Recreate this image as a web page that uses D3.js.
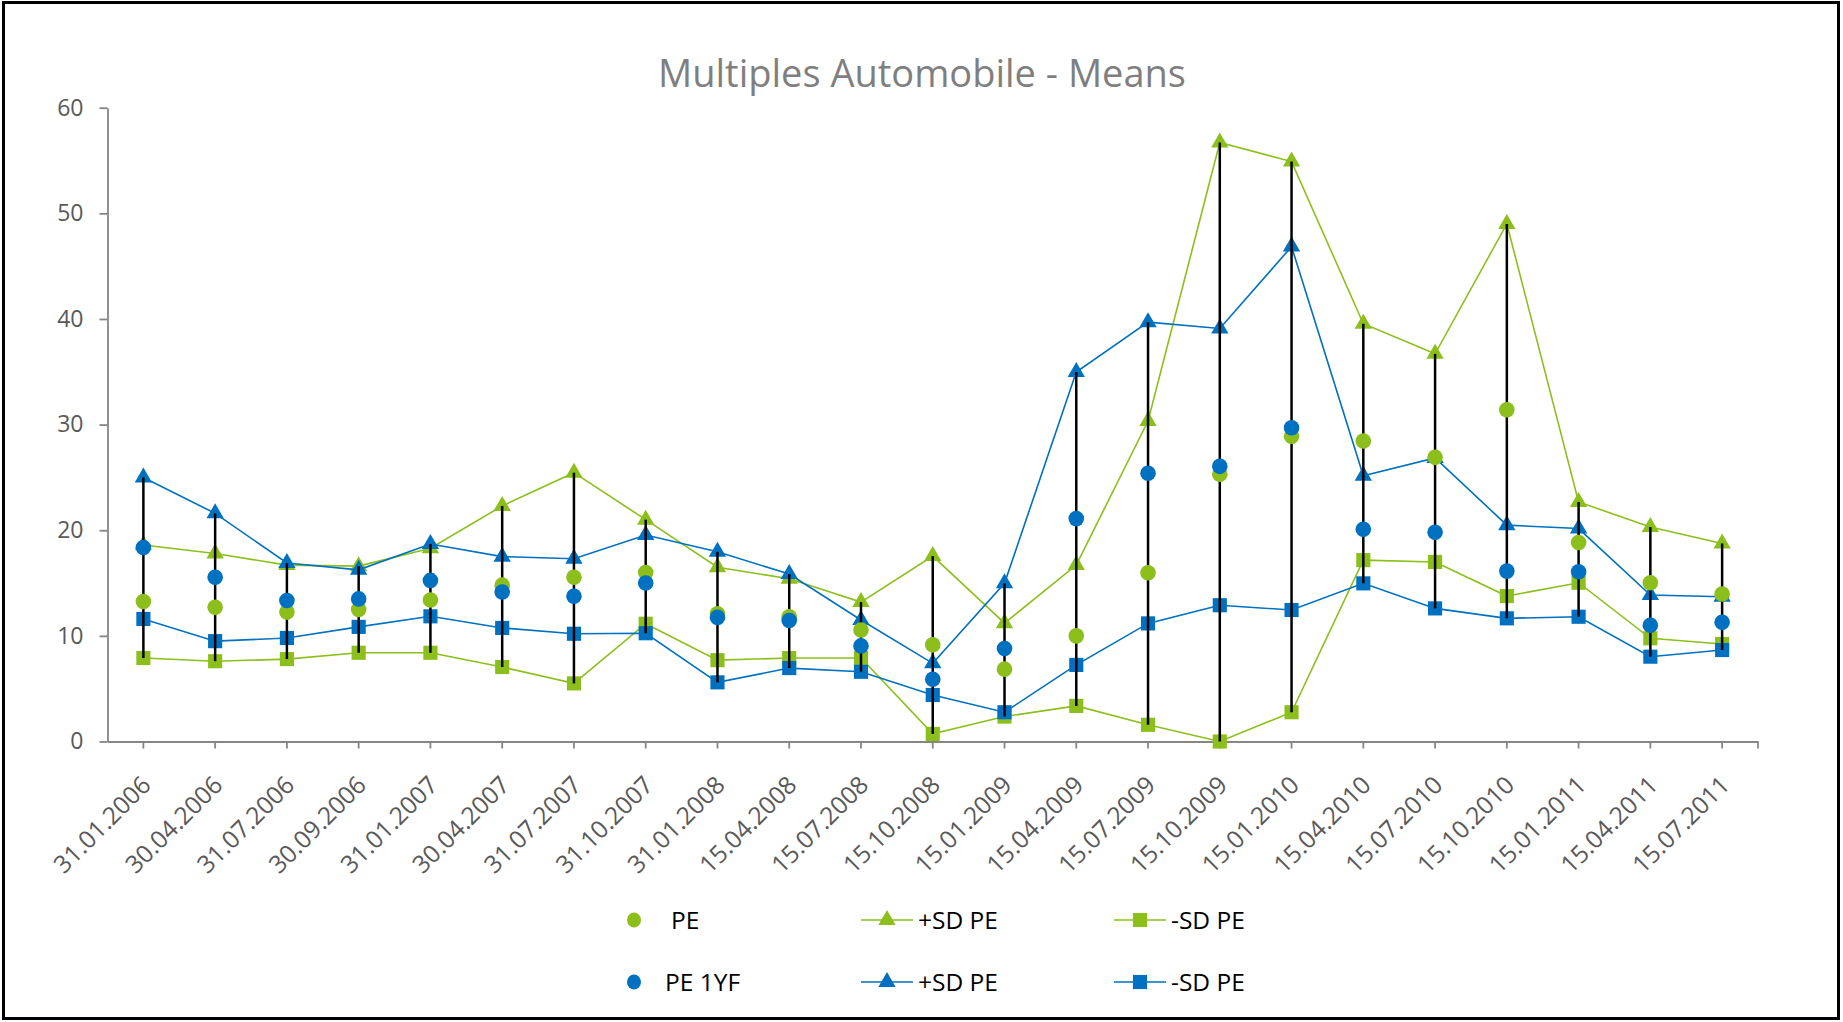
<!DOCTYPE html>
<html>
<head>
<meta charset="utf-8">
<script src="https://cdn.jsdelivr.net/npm/d3@7"></script>
<style>
  html, body { margin: 0; padding: 0; background: #fff; }
  svg { display: block; font-family: "Open Sans", sans-serif; }
</style>
</head>
<body>
<svg id="chart" width="1843" height="1022"></svg>
<script>
// dates on the x axis
const categories = [
  "31.01.2006", "30.04.2006", "31.07.2006", "30.09.2006", "31.01.2007",
  "30.04.2007", "31.07.2007", "31.10.2007", "31.01.2008", "15.04.2008",
  "15.07.2008", "15.10.2008", "15.01.2009", "15.04.2009", "15.07.2009",
  "15.10.2009", "15.01.2010", "15.04.2010", "15.07.2010", "15.10.2010",
  "15.01.2011", "15.04.2011", "15.07.2011"
];

// PE (green)
const pe = [13.25, 12.7, 12.25, 12.5, 13.4, 14.8, 15.55, 16.0, 12.1, 11.8, 10.55, 9.15,
  6.85, 10.0, 15.97, 25.3, 28.9, 28.45, 26.9, 31.4, 18.84, 15.03, 13.96];
const peUp = [18.6, 17.8, 16.7, 16.6, 18.3, 22.3, 25.45, 21.0, 16.5, 15.4, 13.2, 17.55,
  11.2, 16.7, 30.34, 56.7, 54.9, 39.55, 36.7, 49.0, 22.68, 20.3, 18.75];
const peDown = [7.9, 7.6, 7.8, 8.4, 8.4, 7.05, 5.5, 11.15, 7.7, 7.9, 7.9, 0.72,
  2.36, 3.37, 1.58, 0.0, 2.77, 17.17, 17.0, 13.77, 15.03, 9.77, 9.23];

// PE 1YF (blue)
const pe1yf = [18.36, 15.55, 13.35, 13.5, 15.25, 14.15, 13.75, 15.0, 11.75, 11.45, 9.05, 5.9,
  8.8, 21.1, 25.4, 26.05, 29.7, 20.1, 19.8, 16.13, 16.07, 11.0, 11.28];
const pe1yfUp = [25.0, 21.6, 16.9, 16.25, 18.7, 17.5, 17.3, 19.55, 17.96, 15.85, 11.5, 7.4,
  14.97, 34.97, 39.7, 39.1, 46.85, 25.15, 26.85, 20.48, 20.16, 13.87, 13.7];
const pe1yfDown = [11.6, 9.5, 9.8, 10.85, 11.85, 10.75, 10.2, 10.25, 5.6, 6.95, 6.6, 4.4,
  2.77, 7.25, 11.18, 12.9, 12.45, 14.97, 12.6, 11.66, 11.81, 8.03, 8.66];

const yTicks = [0, 10, 20, 30, 40, 50, 60];

const green = "#8CBF1B";
const blue = "#0070C0";
const axisGrey = "#868686";
const labelGrey = "#595959";

const svg = d3.select("#chart");

// frame
svg.append("rect")
  .attr("x", 3.5).attr("y", 2.5)
  .attr("width", 1835).attr("height", 1016)
  .attr("fill", "none").attr("stroke", "#000").attr("stroke-width", 3);

svg.append("text")
  .attr("x", 922).attr("y", 87)
  .attr("text-anchor", "middle")
  .attr("font-size", 38)
  .attr("fill", "#7F7F7F")
  .text("Multiples Automobile - Means");

const xScale = d3.scaleBand().domain(categories).range([107.5, 1758]);
const yScale = d3.scaleLinear().domain([0, 60]).range([741.5, 107.7]);
const cx = (i) => xScale(categories[i]) + xScale.bandwidth() / 2;

// axes
const yAxisG = svg.append("g")
  .attr("transform", `translate(${xScale.range()[0]},0)`)
  .call(d3.axisLeft(yScale).tickValues(yTicks).tickSize(8).tickSizeOuter(0).tickPadding(16));
yAxisG.select(".domain").attr("stroke", axisGrey).attr("stroke-width", 1.8);
yAxisG.selectAll(".tick line").attr("stroke", axisGrey).attr("stroke-width", 1.8);
yAxisG.selectAll(".tick text")
  .attr("font-family", "Open Sans").attr("font-size", 23).attr("fill", labelGrey);

const xAxisG = svg.append("g")
  .attr("transform", `translate(0,${yScale(0)})`)
  .call(d3.axisBottom(xScale).tickSize(7).tickSizeOuter(0));
xAxisG.select(".domain").attr("stroke", axisGrey).attr("stroke-width", 1.8);
xAxisG.selectAll(".tick line").attr("stroke", axisGrey).attr("stroke-width", 1.8);
xAxisG.append("line")
  .attr("x1", xScale.range()[1]).attr("x2", xScale.range()[1])
  .attr("y1", 0).attr("y2", 7)
  .attr("stroke", axisGrey).attr("stroke-width", 1.8);
xAxisG.selectAll(".tick text")
  .attr("font-family", "Open Sans").attr("font-size", 24.5).attr("fill", labelGrey)
  .attr("text-anchor", "end")
  .attr("x", 0).attr("y", 0).attr("dy", 0)
  .attr("transform", "translate(9,45) rotate(-45)");

const symTri = d3.symbol(d3.symbolTriangle, 130);
const symSq = d3.symbol(d3.symbolSquare, 200);

const line = d3.line().x((d, i) => cx(i)).y((d) => yScale(d));

// lined series with markers, in drawing order
const lineSeries = [
  { values: peUp, color: green, sym: symTri },
  { values: peDown, color: green, sym: symSq },
  { values: pe1yfUp, color: blue, sym: symTri },
  { values: pe1yfDown, color: blue, sym: symSq }
];

lineSeries.forEach((s) => {
  const g = svg.append("g");
  g.append("path")
    .attr("d", line(s.values))
    .attr("fill", "none")
    .attr("stroke", s.color)
    .attr("stroke-width", 1.6);
  g.selectAll("path.m")
    .data(s.values)
    .enter()
    .append("path")
    .attr("class", "m")
    .attr("d", s.sym)
    .attr("transform", (d, i) => `translate(${cx(i)},${yScale(d)})`)
    .attr("fill", s.color);
});

// high-low lines
const all = [pe, peUp, peDown, pe1yf, pe1yfUp, pe1yfDown];
svg.append("g")
  .selectAll("line")
  .data(categories)
  .enter()
  .append("line")
  .attr("x1", (d, i) => cx(i))
  .attr("x2", (d, i) => cx(i))
  .attr("y1", (d, i) => yScale(d3.max(all, (a) => a[i])))
  .attr("y2", (d, i) => yScale(d3.min(all, (a) => a[i])))
  .attr("stroke", "#000")
  .attr("stroke-width", 2.5);

// point-only series
[{ values: pe, color: green }, { values: pe1yf, color: blue }].forEach((s) => {
  svg.append("g")
    .selectAll("ellipse")
    .data(s.values)
    .enter()
    .append("ellipse")
    .attr("cx", (d, i) => cx(i))
    .attr("cy", (d) => yScale(d))
    .attr("rx", 7.8)
    .attr("ry", 7.8)
    .attr("fill", s.color);
});

// legend
const legendItems = [
  { name: "PE", color: green, type: "circle", x: 634, y: 920, tx: 671 },
  { name: "+SD PE", color: green, type: "tri", x: 887, y: 920, tx: 918 },
  { name: "-SD PE", color: green, type: "sq", x: 1140, y: 920, tx: 1171 },
  { name: "PE 1YF", color: blue, type: "circle", x: 634, y: 982, tx: 665 },
  { name: "+SD PE", color: blue, type: "tri", x: 887, y: 982, tx: 918 },
  { name: "-SD PE", color: blue, type: "sq", x: 1140, y: 982, tx: 1171 }
];

const lg = svg.append("g");
legendItems.forEach((it) => {
  if (it.type === "circle") {
    lg.append("ellipse")
      .attr("cx", it.x).attr("cy", it.y)
      .attr("rx", 7).attr("ry", 7.5)
      .attr("fill", it.color);
  } else {
    lg.append("line")
      .attr("x1", it.x - 26).attr("x2", it.x + 26)
      .attr("y1", it.y).attr("y2", it.y)
      .attr("stroke", it.color).attr("stroke-width", 1.6);
    lg.append("path")
      .attr("d", it.type === "tri" ? symTri() : symSq())
      .attr("transform", `translate(${it.x},${it.y})`)
      .attr("fill", it.color);
  }
  lg.append("text")
    .attr("x", it.tx).attr("y", it.y)
    .attr("dy", "0.36em")
    .attr("font-size", 24.5)
    .attr("fill", "#000")
    .text(it.name);
});
</script>
</body>
</html>
